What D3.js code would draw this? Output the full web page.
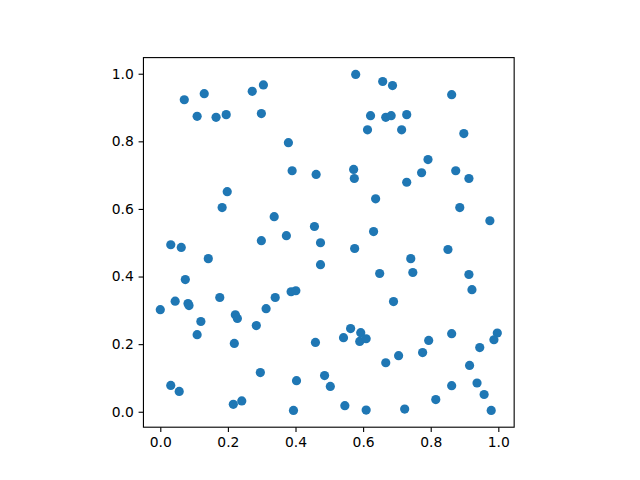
<!DOCTYPE html>
<html>
<head>
<meta charset="utf-8">
<script src="https://cdn.jsdelivr.net/npm/d3@7"></script>
<style>
html,body{margin:0;padding:0;background:#fff;}
svg{display:block;}
</style>
</head>
<body>
<script>
const xValues = [0.071,0.130,0.109,0.165,0.195,0.272,0.305,0.299,0.379,0.390,
0.461,0.578,0.658,0.687,0.862,0.622,0.667,0.683,0.729,0.613,
0.714,0.898,0.792,0.773,0.729,0.874,0.913,0.572,0.574,0.637,
0.198,0.183,0.886,0.337,0.456,0.631,0.373,0.299,0.474,0.031,
0.062,0.575,0.975,0.851,0.142,0.741,0.474,0.649,0.747,0.913,
0.074,0.922,0.044,0.176,0.082,0.085,0.000,0.340,0.387,0.401,
0.313,0.690,0.120,0.222,0.228,0.284,0.109,0.219,0.459,0.542,
0.563,0.590,0.593,0.609,0.862,0.794,0.997,0.987,0.945,0.776,
0.705,0.667,0.915,0.296,0.486,0.403,0.503,0.031,0.056,0.862,
0.937,0.958,0.815,0.241,0.216,0.546,0.609,0.723,0.394,0.979];
const yValues = [0.923,0.941,0.874,0.871,0.879,0.948,0.967,0.882,0.796,0.713,
0.702,0.998,0.977,0.965,0.938,0.876,0.871,0.876,0.879,0.834,
0.834,0.823,0.746,0.707,0.679,0.713,0.690,0.717,0.690,0.630,
0.651,0.604,0.604,0.577,0.548,0.533,0.521,0.506,0.500,0.494,
0.486,0.483,0.565,0.480,0.453,0.453,0.435,0.409,0.412,0.406,
0.391,0.361,0.327,0.338,0.320,0.314,0.302,0.338,0.355,0.358,
0.305,0.326,0.267,0.287,0.276,0.255,0.228,0.202,0.205,0.219,
0.246,0.208,0.234,0.216,0.231,0.211,0.233,0.213,0.190,0.175,
0.166,0.145,0.137,0.116,0.107,0.092,0.075,0.078,0.060,0.077,
0.085,0.051,0.036,0.032,0.022,0.018,0.005,0.008,0.004,0.004];
const xTicks = [0.0,0.2,0.4,0.6,0.8,1.0];
const yTicks = [0.0,0.2,0.4,0.6,0.8,1.0];

const W = 640, H = 480;
const svg = d3.select("body").append("svg").attr("width", W).attr("height", H);

function padDomain(arr){
  const mn = d3.min(arr), mx = d3.max(arr), r = mx - mn;
  return [mn - 0.05*r, mx + 0.05*r];
}
const xd = padDomain(xValues), yd = padDomain(yValues);
const axTop = 57.6, axH = 369.6;
const ppu = axH / (yd[1]-yd[0]);
const axW = ppu * (xd[1]-xd[0]);
const axLeft = 328.8 - axW/2;

const x = d3.scaleLinear().domain(xd).range([axLeft, axLeft+axW]);
const y = d3.scaleLinear().domain(yd).range([axTop+axH, axTop]);

const tickLen = 4.86, fs = 13.89;
const fmt = d3.format(".1f");

const gx = svg.append("g").attr("transform", `translate(0,${axTop+axH})`)
  .call(d3.axisBottom(x).tickValues(xTicks).tickFormat(fmt).tickSize(tickLen).tickPadding(4.86));
const gy = svg.append("g").attr("transform", `translate(${axLeft},0)`)
  .call(d3.axisLeft(y).tickValues(yTicks).tickFormat(fmt).tickSize(tickLen).tickPadding(4.86));
[gx, gy].forEach(g => {
  g.select(".domain").remove();
  g.selectAll(".tick line").attr("stroke", "#000").attr("stroke-width", 1.11);
  g.selectAll(".tick text").attr("fill", "#000")
    .style("font-family", "'DejaVu Sans', sans-serif").style("font-size", fs + "px");
});

svg.append("g").selectAll("circle").data(xValues.map((v,i)=>[v,yValues[i]])).join("circle")
  .attr("cx", d => x(d[0])).attr("cy", d => y(d[1])).attr("r", 4.6)
  .attr("fill", "#1f77b4");

svg.append("rect").attr("x", axLeft).attr("y", axTop).attr("width", axW).attr("height", axH)
  .attr("fill", "none").attr("stroke", "#000").attr("stroke-width", 1.11);
</script>
</body>
</html>
